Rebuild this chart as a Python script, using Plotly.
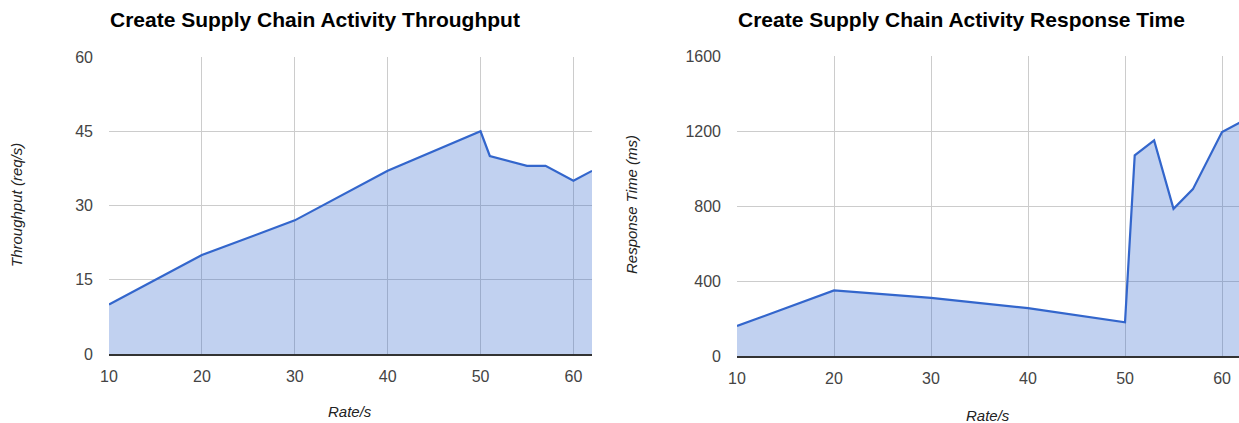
import plotly.graph_objects as go

# Throughput panel
rate_tp = [10, 20, 30, 40, 50, 51, 55, 57, 60, 62]
throughput = [10, 20, 27, 37, 45, 40, 38, 38, 35, 37]

# Response time panel
rate_rt = [10, 20, 30, 40, 50, 51, 53, 55, 57, 60, 62]
response_ms = [160, 350, 310, 255, 180, 1070, 1150, 785, 890, 1195, 1250]

x_ticks = [10, 20, 30, 40, 50, 60]
tp_ticks = [0, 15, 30, 45, 60]
rt_ticks = [0, 400, 800, 1200, 1600]

W, H = 1239, 423
LINE = "#3366cc"
FILL = "rgba(51,102,204,0.30)"
FONT = "Arial, Liberation Sans, sans-serif"


def px_x(p):
    return p / W


def px_y(p):
    return 1 - p / H


fig = go.Figure()
fig.add_trace(go.Scatter(x=rate_tp, y=throughput, mode="lines", fill="tozeroy",
                         line=dict(color=LINE, width=2.2), fillcolor=FILL,
                         xaxis="x", yaxis="y", showlegend=False))
fig.add_trace(go.Scatter(x=rate_rt, y=response_ms, mode="lines", fill="tozeroy",
                         line=dict(color=LINE, width=2.2), fillcolor=FILL,
                         xaxis="x2", yaxis="y2", showlegend=False))

axis_common = dict(showgrid=True, gridcolor="#cccccc", gridwidth=1, automargin=False,
                   zeroline=False, ticks="", tickfont=dict(family=FONT, size=16, color="#444444"))

fig.update_layout(
    template="none",
    width=W, height=H,
    margin=dict(l=0, r=0, t=0, b=0, pad=0, autoexpand=False),
    paper_bgcolor="white", plot_bgcolor="white",
    xaxis=dict(domain=[px_x(109), px_x(592)], range=[10, 62], tickvals=x_ticks,
               anchor="y", showline=True, linecolor="#333333", linewidth=1.5,
               ticklabelstandoff=7, **axis_common),
    yaxis=dict(domain=[px_y(354), px_y(57)], range=[0, 60], tickvals=tp_ticks,
               anchor="x", showline=False, ticklabelstandoff=15, **axis_common),
    xaxis2=dict(domain=[px_x(737), 1], range=[10, 61.75], tickvals=x_ticks,
                anchor="y2", showline=True, linecolor="#333333", linewidth=1.5,
                ticklabelstandoff=7, **axis_common),
    yaxis2=dict(domain=[px_y(356), px_y(56)], range=[0, 1600], tickvals=rt_ticks,
                anchor="x2", showline=False, ticklabelstandoff=15, **axis_common),
)

title_font = dict(family=FONT, size=21, color="#000000")
label_font = dict(family=FONT, size=15, color="#222222")

annotations = [
    dict(text="<b>Create Supply Chain Activity Throughput</b>", x=px_x(108), y=px_y(20),
         xanchor="left", yanchor="middle", font=title_font),
    dict(text="<b>Create Supply Chain Activity Response Time</b>", x=px_x(736), y=px_y(20),
         xanchor="left", yanchor="middle", font=title_font),
    dict(text="<i>Throughput (req/s)</i>", x=px_x(17), y=px_y(205), textangle=-90,
         xanchor="center", yanchor="middle", font=label_font),
    dict(text="<i>Response Time (ms)</i>", x=px_x(632), y=px_y(205), textangle=-90,
         xanchor="center", yanchor="middle", font=label_font),
    dict(text="<i>Rate/s</i>", x=px_x(350), y=px_y(411),
         xanchor="center", yanchor="middle", font=label_font),
    dict(text="<i>Rate/s</i>", x=px_x(988), y=px_y(415),
         xanchor="center", yanchor="middle", font=label_font),
]
for a in annotations:
    a.update(xref="paper", yref="paper", showarrow=False)
fig.update_layout(annotations=annotations)

fig.write_html("out.html")
